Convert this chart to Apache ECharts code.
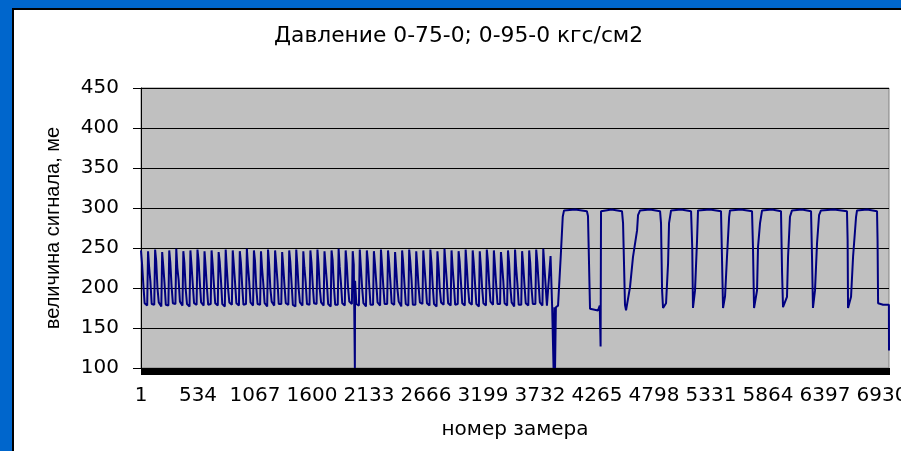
<!DOCTYPE html>
<html>
<head>
<meta charset="utf-8">
<script src="https://cdn.jsdelivr.net/npm/echarts@6/dist/echarts.min.js"></script>
<style>
html,body{margin:0;padding:0;background:#0066CC;}
#chart{width:901px;height:451px;}
</style>
</head>
<body>
<div id="chart"></div>
<script>
// ---- data ----
var sampleCount = 6996;                 // measurement numbers 1..6996
var xTickLabels = ['1','534','1067','1600','2133','2666','3199','3732','4265','4798','5331','5864','6397','6930'];
var yTicks = [100,150,200,250,300,350,400,450];

// first part (0-75-0): periodic cycles (sample index / signal value)
var leftPeakIdx = [0,66,132,198,264,330,396,462,528,594,660,726,792,858,924,990,1056,1122,1188,1254,1320,1386,1452,1518,1584,1650,1716,1782,1848,1914,1980,2046,2112,2178,2244,2310,2376,2442,2508,2574,2640,2706,2772,2838,2904,2970,3036,3102,3168,3234,3300,3366,3432,3498,3564,3630,3696,3762];
var leftPeakVal = [247,246,248,245,247,249,246,247,248,246,247,245,248,247,246,249,247,246,248,247,245,247,248,246,247,248,246,247,249,247,246,248,247,246,248,247,245,247,248,246,247,248,246,249,247,246,248,247,246,248,247,245,247,248,246,247,248,249];
var leftShoulderIdx = [10,76,142,208,274,340,406,472,538,604,670,736,802,868,934,1000,1066,1132,1198,1264,1330,1396,1462,1528,1594,1660,1726,1792,1858,1924,1990,2056,2122,2188,2254,2320,2386,2452,2518,2584,2650,2716,2782,2848,2914,2980,3046,3112,3178,3244,3310,3376,3442,3508,3574,3640,3706,3772];
var leftShoulderVal = [230,226,234,228,232,225,231,229,235,227,230,233,226,229,232,228,234,225,230,231,227,233,229,226,232,230,228,235,227,231,229,226,233,230,228,232,225,231,234,227,229,232,228,230,226,233,229,231,227,234,228,230,232,226,229,231,233,228];
var leftKneeIdx = [22,88,154,220,286,352,418,484,550,616,682,748,814,880,946,1012,1078,1144,1210,1276,1342,1408,1474,1540,1606,1672,1738,1804,1870,1936,2002,2068,2134,2200,2266,2332,2398,2464,2530,2596,2662,2728,2794,2860,2926,2992,3058,3124,3190,3256,3322,3388,3454,3520,3586,3652,3718,3784];
var leftKneeVal = [204,208,200,206,202,210,199,205,207,201,204,209,200,206,203,208,201,205,199,209,203,206,200,207,204,199,208,202,206,201,209,200,204,207,202,208,199,205,210,201,206,203,199,208,204,207,201,205,200,206,203,209,201,205,204,200,207,203];
var leftLowStartIdx = [34,100,166,232,298,364,430,496,562,628,694,760,826,892,958,1024,1090,1156,1222,1288,1354,1420,1486,1552,1618,1684,1750,1816,1882,1948,2014,2080,2146,2212,2278,2344,2410,2476,2542,2608,2674,2740,2806,2872,2938,3004,3070,3136,3202,3268,3334,3400,3466,3532,3598,3664,3730,3796];
var leftLowStartVal = [181,180,182,179,181,183,180,181,182,179,181,180,182,181,179,182,180,181,183,180,181,179,182,180,181,182,180,179,181,183,180,181,179,182,180,181,183,180,179,182,181,180,182,181,179,181,182,180,181,183,180,181,182,179,181,180,182,178];
var leftLowEndIdx = [58,124,190,256,322,388,454,520,586,652,718,784,850,916,982,1048,1114,1180,1246,1312,1378,1444,1510,1576,1642,1708,1774,1840,1906,1972,2038,2104,2170,2236,2302,2368,2434,2500,2566,2632,2698,2764,2830,2896,2962,3028,3094,3160,3226,3292,3358,3424,3490,3556,3622,3688,3754];
var leftLowEndVal = [178,179,177,178,180,178,177,179,178,180,178,177,179,178,180,178,179,177,178,180,179,177,178,179,180,178,177,179,178,180,178,177,179,178,180,179,177,178,179,180,178,177,179,178,180,178,179,177,178,179,180,178,177,179,178,180,178];
var dropIdx = [2000];
var dropVal = [100];

// second part (0-95-0): plateaus and troughs
var rightIdx = [3830,3845,3858,3866,3872,3880,3900,3925,3944,3956,4060,4170,4180,4199,4274,4290,4298,4302,4400,4498,4508,4526,4536,4573,4601,4639,4648,4667,4760,4854,4863,4873,4882,4910,4929,4938,4957,5050,5144,5155,5162,5181,5200,5209,5320,5424,5443,5462,5480,5500,5508,5610,5714,5723,5733,5761,5770,5789,5808,5900,5985,5995,6004,6041,6051,6069,6088,6180,6266,6275,6284,6303,6322,6341,6359,6480,6602,6608,6612,6640,6659,6687,6696,6790,6883,6888,6893,6940,6994,6995];
var rightVal = [240,176,100,176,100,176,178,239,289,297,298,296,290,174,172,178,127,296,298,296,281,179,172,201,239,272,291,297,298,296,281,197,175,181,231,281,297,298,296,250,175,197,260,297,298,296,175,190,239,289,297,298,296,251,175,197,251,281,297,298,296,219,176,189,239,289,297,298,296,239,175,197,256,291,297,298,296,260,175,189,239,289,297,298,296,260,181,179,179,122];

// ---- build ----
var categories = [];
for (var i = 1; i <= sampleCount; i++) categories.push(String(i));
var pts = [];
function add(idx, val){ for (var j=0;j<idx.length;j++) pts.push([idx[j], val[j]]); }
add(leftPeakIdx, leftPeakVal);
add(leftShoulderIdx, leftShoulderVal);
add(leftKneeIdx, leftKneeVal);
add(leftLowStartIdx, leftLowStartVal);
add(leftLowEndIdx, leftLowEndVal);
add(dropIdx, dropVal);
add(rightIdx, rightVal);
pts.sort(function(a,b){return a[0]-b[0];});

var FONT = 'DejaVu Sans';
var chart = echarts.init(document.getElementById('chart'), null, {renderer:'canvas'});
chart.setOption({
  animation: false,
  backgroundColor: '#0066CC',
  graphic: [{
    type: 'rect', z: -100, silent: true,
    shape: {x: 13, y: 9, width: 900, height: 450},
    style: {fill: '#ffffff', stroke: '#000000', lineWidth: 2}
  }],
  title: {
    text: 'Давление 0-75-0; 0-95-0 кгс/см2',
    left: 274, top: 25, padding: 0,
    textStyle: {fontFamily: FONT, fontSize: 21.8, fontWeight: 'normal', color: '#000'}
  },
  grid: {
    left: 141, top: 88, right: 12, bottom: 83,
    outerBoundsMode: 'none',
    containLabel: false,
    show: true, backgroundColor: '#C0C0C0', borderColor: '#808080', borderWidth: 1
  },
  xAxis: {
    type: 'category',
    data: categories,
    boundaryGap: false,
    name: 'номер замера',
    nameLocation: 'middle',
    nameGap: 52,
    nameTextStyle: {fontFamily: FONT, fontSize: 20, color: '#000'},
    axisLine: {show: true, lineStyle: {color: '#000', width: 1}},
    axisTick: {show: true, interval: 0, length: 7, lineStyle: {color: '#000', width: 1}},
    axisLabel: {
      interval: function (index, value) { return xTickLabels.indexOf(value) !== -1; },
      margin: 18,
      fontFamily: FONT, fontSize: 20, color: '#000'
    },
    splitLine: {show: false}
  },
  yAxis: {
    type: 'value',
    min: yTicks[0], max: yTicks[yTicks.length - 1], interval: 50,
    name: 'величина сигнала, ме',
    nameLocation: 'middle',
    nameGap: 78,
    nameTextStyle: {fontFamily: 'Liberation Sans', fontSize: 20, color: '#000'},
    axisLine: {show: true, lineStyle: {color: '#000', width: 1}},
    axisTick: {show: true, length: 8, lineStyle: {color: '#000', width: 1}},
    axisLabel: {margin: 22, fontFamily: FONT, fontSize: 20, color: '#000'},
    splitLine: {show: true, lineStyle: {color: '#000', width: 1}}
  },
  series: [{
    type: 'line',
    data: pts,
    showSymbol: false,
    sampling: null,
    lineStyle: {color: '#000080', width: 2},
    z: 3
  }]
});
</script>
</body>
</html>
